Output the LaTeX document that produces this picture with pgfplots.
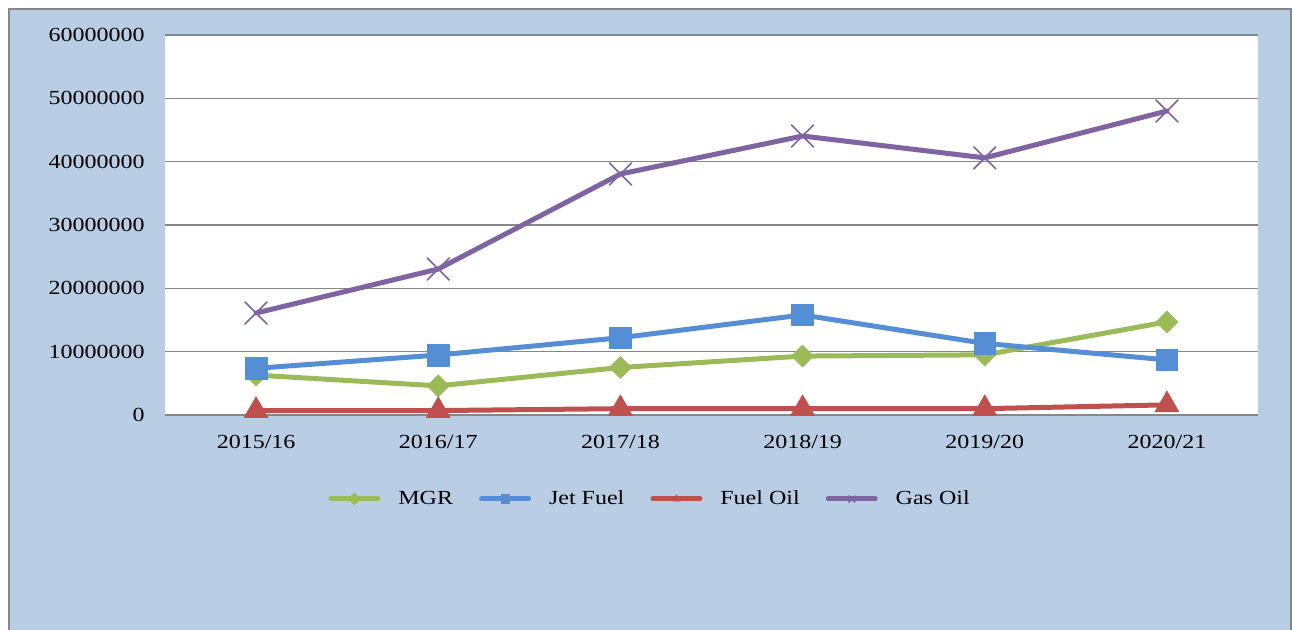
\documentclass[border=0pt]{standalone}
\usepackage{pgfplots}
\pgfplotsset{compat=1.18}
\usepackage{fontspec}
\setmainfont{Liberation Serif}[FakeStretch=1.2]
\definecolor{bgblue}{HTML}{B9CDE5}
\definecolor{frameg}{HTML}{878787}
\definecolor{cmgr}{HTML}{9BBB59}
\definecolor{cjet}{HTML}{558ED5}
\definecolor{cfuel}{HTML}{C0504D}
\definecolor{cgas}{HTML}{8064A2}
\begin{document}
\fontsize{10pt}{12pt}\selectfont
\begin{tikzpicture}
\path[use as bounding box] (0,0) rectangle (646.5pt,315pt);
\begin{scope}
\clip (0,0) rectangle (646.5pt,315pt);
\draw[frameg, line width=1pt, fill=bgblue] (4.5pt,-5pt) rectangle (645.5pt,310.5pt);
\end{scope}
\begin{axis}[
  at={(82.5pt,107.5pt)}, anchor=south west,
  scale only axis, width=546.5pt, height=190pt,
  xmin=-0.5, xmax=5.5, ymin=0, ymax=60000000,
  scaled y ticks=false,
  xtick={0,1,2,3,4,5},
  xticklabels={2015/16,2016/17,2017/18,2018/19,2019/20,2020/21},
  ytick={0,10000000,20000000,30000000,40000000,50000000,60000000},
  yticklabels={0,10000000,20000000,30000000,40000000,50000000,60000000},
  axis line style={draw=none},
  major tick length=0pt,
  ymajorgrids, grid style={frameg, line width=0.7pt},
  axis background/.style={fill=white},
  yticklabel style={anchor=east, inner sep=0pt, xshift=-10pt},
  xticklabel style={anchor=north, inner sep=0pt, yshift=-10pt},
  tick label style={font=\fontsize{10pt}{12pt}\selectfont},
  legend columns=4,
  legend style={at={(0.4447,-0.221)}, anchor=center, draw=none, fill=none,
    font=\fontsize{10pt}{12pt}\selectfont,
    /tikz/every odd column/.append style={column sep=7pt},
    /tikz/every even column/.append style={column sep=11pt}},
  legend image code/.code={\draw[mark repeat=2,mark phase=2,#1, mark size=2.1pt] plot coordinates {(0pt,0pt) (11.75pt,0pt) (23.5pt,0pt)};},
  every axis plot/.append style={line width=2.5pt, line join=round, line cap=round},
]
\addplot[cmgr, mark=square*, mark size=3.9pt, mark options={rotate=45, solid, fill=cmgr, draw=cmgr, line width=0.3pt}]
  coordinates {(0,6300000) (1,4600000) (2,7500000) (3,9300000) (4,9500000) (5,14700000)};
\addlegendentry{MGR}
\addplot[cjet, mark=square*, mark size=5.4pt, mark options={solid, fill=cjet, draw=cjet, line width=0.3pt}]
  coordinates {(0,7370000) (1,9470000) (2,12200000) (3,15800000) (4,11300000) (5,8700000)};
\addlegendentry{Jet Fuel}
\addplot[cfuel, mark=triangle*, mark size=6.9pt, mark options={solid, fill=cfuel, draw=cfuel, line width=0.3pt}]
  coordinates {(0,700000) (1,700000) (2,1000000) (3,1000000) (4,1000000) (5,1600000)};
\addlegendentry{Fuel Oil}
\addplot[cgas, mark=x, mark size=7.8pt, mark options={solid, draw=cgas, line width=0.8pt}]
  coordinates {(0,16100000) (1,23050000) (2,38050000) (3,44050000) (4,40600000) (5,48000000)};
\addlegendentry{Gas Oil}
\end{axis}
\end{tikzpicture}
\end{document}
